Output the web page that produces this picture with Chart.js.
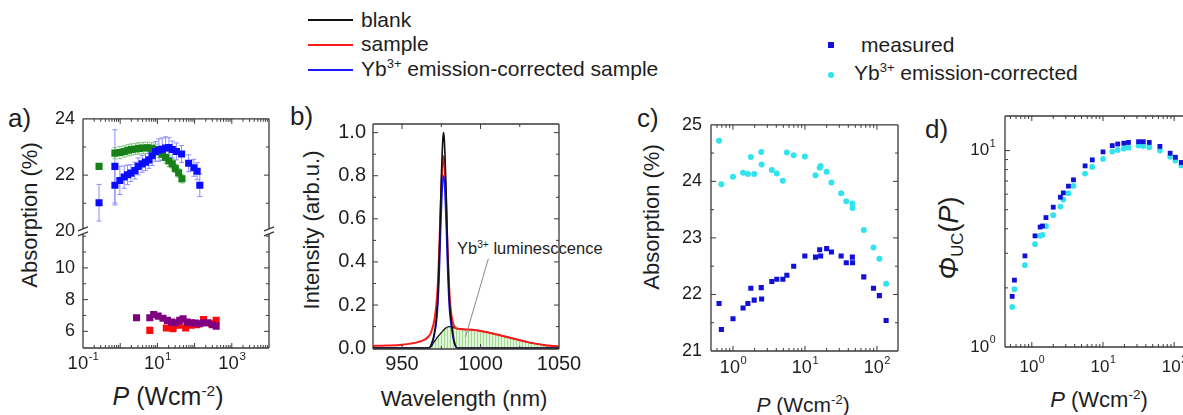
<!DOCTYPE html>
<html>
<head>
<meta charset="utf-8">
<script src="https://cdn.jsdelivr.net/npm/chart.js@4.4.1/dist/chart.umd.min.js"></script>
<style>
  html, body { margin: 0; padding: 0; background: #fff; }
  body { width: 1183px; height: 415px; overflow: hidden; position: relative;
         font-family: "Liberation Sans", Arial, sans-serif; color: #1e1e1e; }
  canvas { position: absolute; }
  .t { position: absolute; white-space: nowrap; line-height: 1; }
  .c { transform: translate(-50%, -50%); }
  .r { transform: translate(-50%, -50%) rotate(-90deg); }
  .sup { font-size: 62%; position: relative; top: -0.6em; }
  .sub { font-size: 62%; position: relative; top: 0.3em; }
  .ln { position: absolute; height: 1.6px; width: 45px; }
  .mk { position: absolute; width: 6px; height: 6px; }
</style>
</head>
<body>

<!-- legends -->
<div class="ln" style="left:308px; top:19px; background:#111;"></div>
<div class="ln" style="left:308px; top:44px; background:#ff1a1a;"></div>
<div class="ln" style="left:308px; top:69px; background:#1a1aff;"></div>
<div class="t" style="left:361px; top:9px; font-size:21px;">blank</div>
<div class="t" style="left:361px; top:33px; font-size:21px;">sample</div>
<div class="t" style="left:361px; top:58px; font-size:21px;">Yb<span class="sup">3+</span> emission-corrected sample</div>

<div class="mk" style="left:828px; top:42px; background:#1010d8;"></div>
<div class="mk" style="left:828px; top:72px; background:#30e3ef; border-radius:50%;"></div>
<div class="t" style="left:861px; top:34px; font-size:21px;">measured</div>
<div class="t" style="left:854px; top:62px; font-size:21px;">Yb<span class="sup">3+</span> emission-corrected</div>

<!-- panel letters -->
<div class="t" style="left:8px; top:105px; font-size:26px;">a)</div>
<div class="t" style="left:290px; top:103px; font-size:26px;">b)</div>
<div class="t" style="left:637px; top:105px; font-size:26px;">c)</div>
<div class="t" style="left:925px; top:116px; font-size:26px;">d)</div>

<!-- axis titles -->
<div class="t r" style="left:30px; top:215px; font-size:22px;">Absorption (%)</div>
<div class="t c" style="left:168px; top:396px; font-size:25px;"><i>P</i> (Wcm<span class="sup">-2</span>)</div>
<div class="t r" style="left:312px; top:230px; font-size:22px;">Intensity (arb.u.)</div>
<div class="t c" style="left:464px; top:399px; font-size:22px;">Wavelength (nm)</div>
<div class="t r" style="left:652px; top:217px; font-size:22px;">Absorption (%)</div>
<div class="t c" style="left:803px; top:404px; font-size:21px;"><i>P</i> (Wcm<span class="sup">-2</span>)</div>
<div class="t r" style="left:949px; top:238px; font-size:27px;"><i>Φ</i><span class="sub">UC</span>(<i>P</i>)</div>
<div class="t c" style="left:1099px; top:400px; font-size:22px;"><i>P</i> (Wcm<span class="sup">-2</span>)</div>

<div class="t" style="left:457px; top:240px; font-size:16.5px;">Yb<span class="sup">3+</span> luminesccence</div>

<canvas id="ca" width="260" height="290" style="left:30px; top:100px;"></canvas>
<canvas id="cb" width="289" height="290" style="left:300px; top:105px;"></canvas>
<canvas id="cc" width="260" height="290" style="left:655px; top:105px;"></canvas>
<canvas id="cd" width="260" height="290" style="left:950px; top:104px;"></canvas>

<script>
// ---- panel a: absorption vs power density (broken y axis) ----
const aGreenP   = [0.27, 0.72, 0.98, 1.28, 1.64, 2.02, 2.59, 3.24, 4.14, 5.43, 6.95, 8.91, 11.0, 13.5, 16.6, 20.4, 25.1, 30.2, 37.2, 45.7];
const aGreenAbs = [22.31, 22.78, 22.80, 22.84, 22.88, 22.91, 22.93, 22.95, 22.96, 22.97, 22.95, 22.90, 22.83, 22.74, 22.63, 22.50, 22.40, 22.24, 22.08, 21.87];
const aGreenErr = [0.05, 0.2, 0.22, 0.2, 0.2, 0.2, 0.2, 0.2, 0.2, 0.2, 0.2, 0.2, 0.2, 0.2, 0.2, 0.2, 0.15, 0.15, 0.15, 0.15];

const aBlueP   = [0.27, 0.72, 0.72, 0.98, 1.28, 1.58, 1.94, 2.48, 3.05, 3.89, 4.79, 5.89, 7.24, 8.91, 11.0, 13.5, 16.6, 20.4, 25.1, 32.4, 44.7, 69.2, 95.5, 117, 138];
const aBlueAbs = [21.02, 22.31, 21.64, 21.81, 21.93, 22.01, 22.07, 22.16, 22.31, 22.40, 22.46, 22.54, 22.69, 22.84, 22.89, 22.92, 22.96, 22.98, 22.91, 22.84, 22.75, 22.42, 22.26, 22.14, 21.64];
const aBlueErr = [0.65, 1.3, 0.7, 0.5, 0.4, 0.35, 0.3, 0.3, 0.3, 0.3, 0.3, 0.3, 0.35, 0.35, 0.4, 0.4, 0.4, 0.35, 0.3, 0.3, 0.3, 0.3, 0.3, 0.3, 0.4];

const aPurpleP   = [2.75, 6.25, 7.94, 10.5, 14.1, 18.6, 24.0, 30.9, 39.8, 49.0, 63.1, 81.3, 107, 138, 174, 229, 302, 380];
const aPurpleAbs = [6.86, 6.86, 7.06, 6.96, 6.83, 6.69, 6.58, 6.54, 6.69, 6.79, 6.58, 6.54, 6.52, 6.48, 6.54, 6.54, 6.42, 6.33];
const aPurpleErr = [0.1, 0.12, 0.12, 0.12, 0.12, 0.12, 0.12, 0.12, 0.15, 0.12, 0.12, 0.12, 0.12, 0.12, 0.12, 0.12, 0.12, 0.12];

const aRedP   = [6.25, 17.4, 26.3, 38.0, 57.5, 81.3, 115, 174, 282, 380];
const aRedAbs = [6.06, 6.21, 6.17, 6.38, 6.21, 6.38, 6.42, 6.75, 6.48, 6.69];
const aRedErr = [0.2, 0.15, 0.15, 0.15, 0.15, 0.15, 0.15, 0.15, 0.15, 0.15];

const aUpperTicks = [20, 22, 24];
const aLowerTicks = [6, 8, 10];

// ---- panel b: spectra ----
const bNm = [930, 940, 950, 960, 965, 967, 968, 969, 970, 971, 972, 973, 974, 975, 976, 976.5, 977, 978, 979, 980,
             981, 982, 983, 984, 985, 986, 990, 995, 1000, 1005, 1010, 1015, 1020, 1025, 1030, 1035, 1040, 1045, 1050];
const bBlank = [0, 0, 0, 0, 0, 0, 0.008, 0.025, 0.05, 0.09, 0.15, 0.27, 0.5, 0.78, 0.97, 1.0, 0.96, 0.75, 0.47, 0.25,
                0.15, 0.09, 0.04, 0.012, 0, 0, 0, 0, 0, 0, 0, 0, 0, 0, 0, 0, 0, 0, 0];
const bCorrected = [0, 0, 0, 0, 0, 0, 0.006, 0.02, 0.04, 0.075, 0.125, 0.22, 0.4, 0.63, 0.78, 0.8, 0.77, 0.6, 0.37, 0.2,
                    0.12, 0.07, 0.03, 0.01, 0, 0, 0, 0, 0, 0, 0, 0, 0, 0, 0, 0, 0, 0, 0];
const bSample = [0.01, 0.012, 0.016, 0.028, 0.042, 0.055, 0.065, 0.085, 0.11, 0.15, 0.21, 0.32, 0.52, 0.74, 0.87, 0.89, 0.86, 0.7, 0.46, 0.28,
                 0.18, 0.13, 0.105, 0.095, 0.091, 0.09, 0.087, 0.085, 0.08, 0.073, 0.064, 0.055, 0.046, 0.037, 0.028, 0.021, 0.015, 0.011, 0.008];
const bLum = [0, 0, 0, 0, 0, 0, 0.003, 0.012, 0.025, 0.035, 0.045, 0.055, 0.063, 0.072, 0.08, 0.084, 0.088, 0.094, 0.098, 0.1,
              0.1, 0.098, 0.095, 0.093, 0.091, 0.09, 0.087, 0.085, 0.08, 0.073, 0.064, 0.055, 0.046, 0.037, 0.028, 0.021, 0.015, 0.011, 0.008];
const bLeaderNm = [990.5, 1005];
const bLeaderI = [0.053, 0.415];
const bTicksX = [950, 1000, 1050];
const bTicksY = [0, 0.2, 0.4, 0.6, 0.8, 1.0];

// ---- panel c: absorption, measured vs corrected ----
const cP = [0.64, 0.69, 1.0, 1.38, 1.61, 1.77, 1.97, 2.47, 2.5, 3.46, 4.06, 4.93, 5.6, 6.97, 9.95, 14.0, 16.0, 16.5, 20.0, 23.3,
            31.8, 37.5, 45.5, 45.8, 65.6, 89.5, 108, 134];
const cMeasured = [21.84, 21.38, 21.57, 21.76, 21.84, 22.11, 21.90, 22.12, 21.92, 22.23, 22.27, 22.27, 22.34, 22.50, 22.68, 22.66, 22.79, 22.68, 22.81, 22.75,
                   22.68, 22.56, 22.66, 22.56, 22.31, 22.11, 21.98, 21.54];
const cCorrected = [24.72, 23.95, 24.08, 24.15, 24.13, 24.43, 24.13, 24.52, 24.30, 24.20, 24.14, 24.01, 24.51, 24.46, 24.44, 24.11, 24.24, 24.27, 24.17, 23.98,
                    23.79, 23.65, 23.61, 23.53, 23.14, 22.83, 22.63, 22.19];
const cTicksY = [21, 22, 23, 24, 25];

// ---- panel d: upconversion quantum yield ----
const dP = [0.53, 0.57, 0.80, 1.11, 1.31, 1.41, 1.58, 2.0, 2.52, 2.77, 3.27, 3.85, 5.6, 7.07, 10.0, 13.5, 16.1, 19.6, 22.8, 31.6,
            36.8, 44.7, 63.0, 87.8, 104, 126];
const dMeasured = [1.81, 2.19, 2.91, 3.68, 4.08, 4.13, 4.56, 5.15, 5.79, 6.09, 6.59, 7.10, 8.36, 8.97, 9.85, 10.6, 10.8, 10.9, 11.0, 11.1,
                   11.1, 11.0, 10.5, 9.7, 9.25, 8.7];
const dCorrected = [1.60, 1.97, 2.61, 3.34, 3.68, 3.72, 4.12, 4.69, 5.19, 5.63, 6.07, 6.61, 7.64, 8.26, 9.07, 9.88, 10.07, 10.25, 10.35, 10.6,
                    10.55, 10.4, 10.0, 9.3, 8.9, 8.4];

const FONT = '"Liberation Sans", Arial, sans-serif';
const AXIS = '#3a3a3a';
const TEXT = '#1e1e1e';
Chart.defaults.font.family = FONT;
Chart.defaults.color = TEXT;

const pts = (xs, ys) => xs.map((x, i) => ({ x: x, y: ys[i] }));
const range = (a, b, step) => { const r = []; for (let v = a; v <= b + 1e-9; v += step) r.push(+v.toFixed(4)); return r; };
// minor ticks of a log axis: 2..9 times each decade
const logMinor = (d0, d1) => { const r = []; for (let d = d0; d <= d1; d++) for (let m = 2; m <= 9; m++) r.push(m * Math.pow(10, d)); return r; };

// frame with inward ticks on all four sides, plus 10^n labels for log axes
const framePlugin = {
  id: 'frame',
  afterDatasetsDraw(chart, args, o) {
    const { ctx, chartArea: a } = chart;
    ctx.save();
    ctx.strokeStyle = AXIS;
    ctx.lineWidth = 1.3;
    ctx.beginPath();
    ctx.moveTo(a.left, a.top); ctx.lineTo(a.right, a.top);
    ctx.moveTo(a.left, a.bottom); ctx.lineTo(a.right, a.bottom);
    const yb = o.breakScale ? chart.scales[o.breakScale].top : null;
    for (const x of [a.left, a.right]) {
      if (yb === null) {
        ctx.moveTo(x, a.top); ctx.lineTo(x, a.bottom);
      } else {
        ctx.moveTo(x, a.top); ctx.lineTo(x, yb - 3);
        ctx.moveTo(x, yb + 3); ctx.lineTo(x, a.bottom);
        ctx.moveTo(x - 5, yb - 0.5); ctx.lineTo(x + 5, yb - 4.5);
        ctx.moveTo(x - 5, yb + 4.5); ctx.lineTo(x + 5, yb + 0.5);
      }
    }
    ctx.stroke();

    ctx.lineWidth = 1;
    ctx.beginPath();
    for (const t of o.ticks) {
      const s = chart.scales[t.id];
      const hz = s.isHorizontal();
      const mark = (v, len) => {
        const p = s.getPixelForValue(v);
        if (hz) {
          if (p < a.left + 1 || p > a.right - 1) return;
          ctx.moveTo(p, a.bottom); ctx.lineTo(p, a.bottom - len);
          ctx.moveTo(p, a.top); ctx.lineTo(p, a.top + len);
        } else {
          if (p < s.top + 1 || p > s.bottom - 1) return;
          ctx.moveTo(a.left, p); ctx.lineTo(a.left + len, p);
          ctx.moveTo(a.right, p); ctx.lineTo(a.right - len, p);
        }
      };
      t.major.forEach(v => mark(v, 5));
      (t.minor || []).forEach(v => mark(v, 3));
    }
    ctx.stroke();

    ctx.fillStyle = TEXT;
    ctx.textAlign = 'left';
    ctx.textBaseline = 'middle';
    for (const L of (o.logLabels || [])) {
      const s = chart.scales[L.id];
      L.values.forEach((v, i) => {
        const p = s.getPixelForValue(v);
        const e = L.exps[i];
        ctx.font = L.size + 'px ' + FONT;
        const bw = ctx.measureText('10').width;
        ctx.font = (L.size * 0.62) + 'px ' + FONT;
        const ew = ctx.measureText(e).width;
        let x, y;
        if (s.isHorizontal()) { x = p - (bw + ew) / 2; y = a.bottom + L.offset; }
        else { x = a.left - L.offset - bw - ew; y = p; }
        ctx.font = L.size + 'px ' + FONT;
        ctx.fillText('10', x, y);
        ctx.font = (L.size * 0.62) + 'px ' + FONT;
        ctx.fillText(e, x + bw + 0.5, y - L.size * 0.4);
      });
    }
    ctx.restore();
  }
};

// vertical error bars from dataset.errors
const errorBarPlugin = {
  id: 'errorBars',
  beforeDatasetsDraw(chart) {
    const { ctx } = chart;
    ctx.save();
    ctx.lineWidth = 1;
    chart.data.datasets.forEach((ds, i) => {
      if (!ds.errors) return;
      const meta = chart.getDatasetMeta(i);
      ctx.strokeStyle = ds.errorColor;
      ctx.beginPath();
      meta.data.forEach((pt, j) => {
        const yv = ds.data[j].y, e = ds.errors[j];
        const y1 = meta.yScale.getPixelForValue(yv + e);
        const y2 = meta.yScale.getPixelForValue(yv - e);
        ctx.moveTo(pt.x, y1); ctx.lineTo(pt.x, y2);
        ctx.moveTo(pt.x - 2.5, y1); ctx.lineTo(pt.x + 2.5, y1);
        ctx.moveTo(pt.x - 2.5, y2); ctx.lineTo(pt.x + 2.5, y2);
      });
      ctx.stroke();
    });
    ctx.restore();
  }
};

const noGrid = { display: false, drawTicks: false };
const noBorder = { display: false };
const setTicks = list => s => { s.ticks = list.map(v => ({ value: v })); };
const baseOptions = (padding) => ({
  responsive: false,
  animation: false,
  events: [],
  layout: { padding: padding },
  plugins: { legend: { display: false }, tooltip: { enabled: false } }
});

function hatch() {
  const c = document.createElement('canvas');
  c.width = 3; c.height = 4;
  const g = c.getContext('2d');
  g.fillStyle = '#e2f5da'; g.fillRect(0, 0, 3, 4);
  g.fillStyle = '#9edb8e'; g.fillRect(0, 0, 1, 4);
  return g.createPattern(c, 'repeat');
}

// ---------- panel a ----------
const optA = baseOptions({ top: 16, right: 21, left: 0, bottom: 0 });
optA.plugins.frame = {
  breakScale: 'yL',
  ticks: [
    { id: 'x', major: [0.1, 1, 10, 100, 1000, 10000], minor: logMinor(-1, 3) },
    { id: 'yU', major: aUpperTicks, minor: [21, 23] },
    { id: 'yL', major: aLowerTicks, minor: [5, 7, 9, 11, 12] }
  ],
  logLabels: [{ id: 'x', values: [0.1, 10, 1000], exps: ['-1', '1', '3'], size: 18.5, offset: 16 }]
};
optA.scales = {
  x: { type: 'logarithmic', min: 0.1, max: 10000, ticks: { display: false }, grid: noGrid, border: noBorder,
       afterFit: s => { s.height = 42; } },
  yU: { type: 'linear', position: 'left', stack: 'a', stackWeight: 114, weight: 1, min: 20, max: 24,
        afterBuildTicks: setTicks(aUpperTicks), ticks: { font: { size: 18 }, padding: 8 },
        grid: noGrid, border: noBorder, afterFit: s => { s.width = 53; } },
  yL: { type: 'linear', position: 'left', stack: 'a', stackWeight: 118, weight: 0, min: 4.95, max: 12.3,
        afterBuildTicks: setTicks(aLowerTicks), ticks: { font: { size: 18 }, padding: 8 },
        grid: noGrid, border: noBorder, afterFit: s => { s.width = 53; } }
};
new Chart(document.getElementById('ca'), {
  type: 'scatter',
  data: { datasets: [
    { data: pts(aBlueP, aBlueAbs), yAxisID: 'yU', errors: aBlueErr, errorColor: '#8c8cff',
      backgroundColor: '#0b0bff', pointStyle: 'rect', pointRadius: 5, pointBorderWidth: 0 },
    { data: pts(aGreenP, aGreenAbs), yAxisID: 'yU', errors: aGreenErr, errorColor: '#86c886',
      backgroundColor: '#178017', pointStyle: 'rect', pointRadius: 5, pointBorderWidth: 0 },
    { data: pts(aPurpleP, aPurpleAbs), yAxisID: 'yL', errors: aPurpleErr, errorColor: '#c78ac7',
      backgroundColor: '#800080', pointStyle: 'rect', pointRadius: 5, pointBorderWidth: 0 },
    { data: pts(aRedP, aRedAbs), yAxisID: 'yL', errors: aRedErr, errorColor: '#ff8f8f',
      backgroundColor: '#ff0a0a', pointStyle: 'rect', pointRadius: 5, pointBorderWidth: 0 }
  ] },
  options: optA,
  plugins: [errorBarPlugin, framePlugin]
});

// ---------- panel b ----------
const line = (xs, ys, color, w) => ({ data: pts(xs, ys), showLine: true, borderColor: color, borderWidth: w,
  pointRadius: 0, cubicInterpolationMode: 'monotone' });
const optB = baseOptions({ top: 14, right: 30, left: 0, bottom: 0 });
optB.plugins.frame = {
  ticks: [
    { id: 'x', major: bTicksX, minor: [975, 1025] },
    { id: 'y', major: bTicksY, minor: range(0.1, 0.9, 0.2) }
  ]
};
optB.scales = {
  x: { type: 'linear', min: 931.5, max: 1050, afterBuildTicks: setTicks(bTicksX),
       ticks: { font: { size: 20 }, padding: 3, maxRotation: 0, autoSkip: false, callback: v => String(v) },
       grid: noGrid, border: noBorder, afterFit: s => { s.height = 46; } },
  y: { type: 'linear', min: -0.004, max: 1.04, afterBuildTicks: setTicks(bTicksY),
       ticks: { font: { size: 20 }, padding: 7, callback: v => v.toFixed(1) },
       grid: noGrid, border: noBorder, afterFit: s => { s.width = 73; } }
};
const lumSet = line(bNm, bLum, '#111', 1.3);
lumSet.fill = 'origin';
lumSet.backgroundColor = hatch();
new Chart(document.getElementById('cb'), {
  type: 'scatter',
  data: { datasets: [
    { data: pts(bLeaderNm, bLeaderI), showLine: true, borderColor: '#8a8a8a', borderWidth: 1, pointRadius: 0 },
    line(bNm, bBlank, '#111', 1.6),
    line(bNm, bCorrected, '#1a1aff', 1.5),
    line(bNm, bSample, '#ff1a1a', 2),
    lumSet
  ] },
  options: optB,
  plugins: [framePlugin]
});

// ---------- panel c ----------
const optC = baseOptions({ top: 13, right: 17, left: 0, bottom: 0 });
optC.plugins.frame = {
  ticks: [
    { id: 'x', major: [1, 10, 100], minor: logMinor(-1, 2) },
    { id: 'y', major: cTicksY, minor: range(21.5, 24.5, 1) }
  ],
  logLabels: [{ id: 'x', values: [1, 10, 100], exps: ['0', '1', '2'], size: 18, offset: 17 }]
};
optC.scales = {
  x: { type: 'logarithmic', min: 0.495, max: 196, ticks: { display: false }, grid: noGrid, border: noBorder,
       afterFit: s => { s.height = 44; } },
  y: { type: 'linear', min: 21, max: 25, afterBuildTicks: setTicks(cTicksY),
       ticks: { font: { size: 18 }, padding: 9, callback: v => String(v) },
       grid: noGrid, border: noBorder, afterFit: s => { s.width = 56; } }
};
new Chart(document.getElementById('cc'), {
  type: 'scatter',
  data: { datasets: [
    { data: pts(cP, cMeasured), backgroundColor: '#1010d8', pointStyle: 'rect', pointRadius: 3.6, pointBorderWidth: 0 },
    { data: pts(cP, cCorrected), backgroundColor: '#30e3ef', pointStyle: 'circle', pointRadius: 3, pointBorderWidth: 0 }
  ] },
  options: optC,
  plugins: [framePlugin]
});

// ---------- panel d ----------
const optD = baseOptions({ top: 12, right: 18, left: 0, bottom: 0 });
optD.plugins.frame = {
  ticks: [
    { id: 'x', major: [1, 10, 100], minor: logMinor(-1, 2) },
    { id: 'y', major: [1, 10], minor: logMinor(0, 0) }
  ],
  logLabels: [
    { id: 'x', values: [1, 10, 100], exps: ['0', '1', '2'], size: 17, offset: 20 },
    { id: 'y', values: [1, 10], exps: ['0', '1'], size: 17, offset: 10 }
  ]
};
optD.scales = {
  x: { type: 'logarithmic', min: 0.42, max: 178, ticks: { display: false }, grid: noGrid, border: noBorder,
       afterFit: s => { s.height = 47; } },
  y: { type: 'logarithmic', min: 1, max: 15, ticks: { display: false }, grid: noGrid, border: noBorder,
       afterFit: s => { s.width = 55; } }
};
new Chart(document.getElementById('cd'), {
  type: 'scatter',
  data: { datasets: [
    { data: pts(dP, dMeasured), backgroundColor: '#1010d8', pointStyle: 'rect', pointRadius: 3.4, pointBorderWidth: 0 },
    { data: pts(dP, dCorrected), backgroundColor: '#30e3ef', pointStyle: 'circle', pointRadius: 2.9, pointBorderWidth: 0 }
  ] },
  options: optD,
  plugins: [framePlugin]
});
</script>
</body>
</html>
